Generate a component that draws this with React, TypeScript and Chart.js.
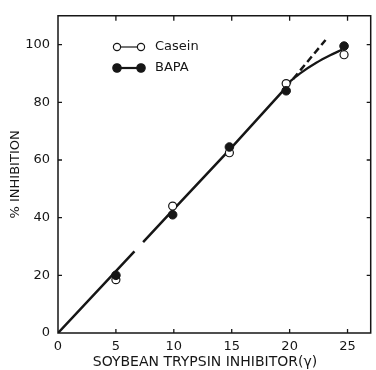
import React, { useEffect, useRef } from 'react';
import { Chart, registerables } from 'chart.js';

Chart.register(...registerables);

// ---- data ----
const doses = [5, 9.9, 14.8, 19.7, 24.7];
const casein = [18.5, 44, 62.5, 86.5, 96.5];
const bapa = [20, 41, 64.5, 84, 99.5];

// drawn fit line (with a small break near x≈7)
const fitX = [0, 6.6, 6.9, 7.35, 9.9, 14.8, 19.7];
const fitY = [0, 28.3, null, 31.5, 42.5, 63.5, 85.2];
// curved branch bending over to the last points
const bendX = [19.8, 21.0, 22.3, 23.5, 24.5];
const bendY = [86.5, 90.3, 93.7, 96.3, 98.2];
// dashed linear extrapolation
const dashX = [19.7, 23.1];
const dashY = [85.2, 101.6];

const xTicks = [0, 5, 10, 15, 20, 25];
const yTicks = [0, 20, 40, 60, 80, 100];

const xTitle = 'SOYBEAN TRYPSIN INHIBITOR(\u03b3)';
const yTitle = '% INHIBITION';
const seriesLabels = ['Casein', 'BAPA'];

const INK = '#161616';
const FONT = '"DejaVu Sans", sans-serif';

const pts = (xs: number[], ys: (number | null)[]) => xs.map((x, i) => ({ x, y: ys[i] }));

export default function App() {
  const ref = useRef<HTMLCanvasElement>(null);

  useEffect(() => {
    const canvas = ref.current;
    if (!canvas) return;

    const framePlugin = {
      id: 'frame',
      afterDraw(chart: any) {
        const { ctx, chartArea, scales } = chart;
        const { left, right, top, bottom } = chartArea;
        const xs = scales.x;
        const ys = scales.y;
        ctx.save();
        ctx.strokeStyle = INK;
        ctx.lineWidth = 1.5;
        ctx.beginPath();
        ctx.moveTo(left, top);
        ctx.lineTo(right, top);
        ctx.lineTo(right, bottom);
        ctx.lineTo(left, bottom);
        ctx.closePath();
        ctx.stroke();

        ctx.lineWidth = 1.3;
        ctx.beginPath();
        xTicks.forEach((v) => {
          if (v === 0) return;
          const px = xs.getPixelForValue(v);
          ctx.moveTo(px, bottom);
          ctx.lineTo(px, bottom - 4);
          ctx.moveTo(px, top);
          ctx.lineTo(px, top + 5);
        });
        yTicks.forEach((v) => {
          if (v === 0) return;
          const py = ys.getPixelForValue(v);
          ctx.moveTo(left, py);
          ctx.lineTo(left + 4, py);
          ctx.moveTo(right, py);
          ctx.lineTo(right - 4, py);
        });
        ctx.stroke();

        // x axis title
        ctx.fillStyle = INK;
        ctx.font = `14px ${FONT}`;
        ctx.textAlign = 'center';
        ctx.textBaseline = 'middle';
        ctx.fillText(xTitle, 205, 362);

        // legend
        const rows = [
          { label: seriesLabels[0], filled: false, y: 47, lw: 1.2 },
          { label: seriesLabels[1], filled: true, y: 68, lw: 2.2 },
        ];
        ctx.font = `13px ${FONT}`;
        ctx.textAlign = 'left';
        rows.forEach((r) => {
          ctx.beginPath();
          ctx.lineWidth = r.lw;
          ctx.moveTo(117, r.y);
          ctx.lineTo(141, r.y);
          ctx.stroke();
          [117, 141].forEach((cx) => {
            ctx.beginPath();
            ctx.arc(cx, r.y, r.filled ? 4.2 : 3.6, 0, Math.PI * 2);
            ctx.fillStyle = r.filled ? INK : '#fff';
            ctx.fill();
            ctx.lineWidth = 1.2;
            ctx.stroke();
          });
          ctx.fillStyle = INK;
          ctx.fillText(r.label, 155, r.y);
        });
        ctx.restore();
      },
    };

    const chart = new Chart(canvas, {
      type: 'scatter',
      data: {
        datasets: [
          {
            label: 'fit',
            data: pts(fitX, fitY) as any,
            showLine: true,
            spanGaps: false,
            borderColor: INK,
            borderWidth: 2.5,
            pointRadius: 0,
            tension: 0,
            order: 5,
          },
          {
            label: 'bend',
            data: pts(bendX, bendY) as any,
            showLine: true,
            borderColor: INK,
            borderWidth: 2.3,
            pointRadius: 0,
            cubicInterpolationMode: 'monotone',
            order: 5,
          },
          {
            label: 'extrapolation',
            data: pts(dashX, dashY) as any,
            showLine: true,
            borderColor: INK,
            borderWidth: 2.5,
            borderDash: [7, 4],
            pointRadius: 0,
            order: 5,
          },
          {
            label: seriesLabels[0],
            data: pts(doses, casein) as any,
            pointRadius: 4,
            pointBackgroundColor: '#fff',
            pointBorderColor: INK,
            pointBorderWidth: 1.2,
            order: 2,
          },
          {
            label: seriesLabels[1],
            data: pts(doses, bapa) as any,
            pointRadius: 4.3,
            pointBackgroundColor: INK,
            pointBorderColor: INK,
            pointBorderWidth: 1,
            order: 1,
          },
        ],
      },
      options: {
        responsive: false,
        animation: false,
        devicePixelRatio: 1,
        layout: { padding: { top: 14, right: 3, left: 0, bottom: 0 } },
        plugins: { legend: { display: false }, tooltip: { enabled: false } },
        scales: {
          x: {
            type: 'linear',
            min: 0,
            max: 27,
            grid: { display: false, drawTicks: false },
            border: { display: false },
            afterBuildTicks: (s: any) => {
              s.ticks = xTicks.map((v) => ({ value: v }));
            },
            afterFit: (s: any) => {
              s.height = 37;
            },
            ticks: {
              color: INK,
              font: { family: FONT, size: 13 },
              padding: 6,
              maxRotation: 0,
              autoSkip: false,
            },
          },
          y: {
            type: 'linear',
            min: 0,
            max: 110,
            grid: { display: false, drawTicks: false },
            border: { display: false },
            afterBuildTicks: (s: any) => {
              s.ticks = yTicks.map((v) => ({ value: v }));
            },
            afterFit: (s: any) => {
              s.width = 58;
            },
            ticks: {
              color: INK,
              font: { family: FONT, size: 13 },
              padding: 8,
              autoSkip: false,
            },
            title: {
              display: true,
              text: yTitle,
              color: INK,
              font: { family: FONT, size: 13 },
              padding: { top: 8, bottom: 0 },
            },
          },
        },
      },
      plugins: [framePlugin],
    } as any);

    return () => chart.destroy();
  }, []);

  return (
    <div style={{ position: 'absolute', left: 0, top: 0, width: 376, height: 370, background: '#fff' }}>
      <canvas ref={ref} width={376} height={370} />
    </div>
  );
}
